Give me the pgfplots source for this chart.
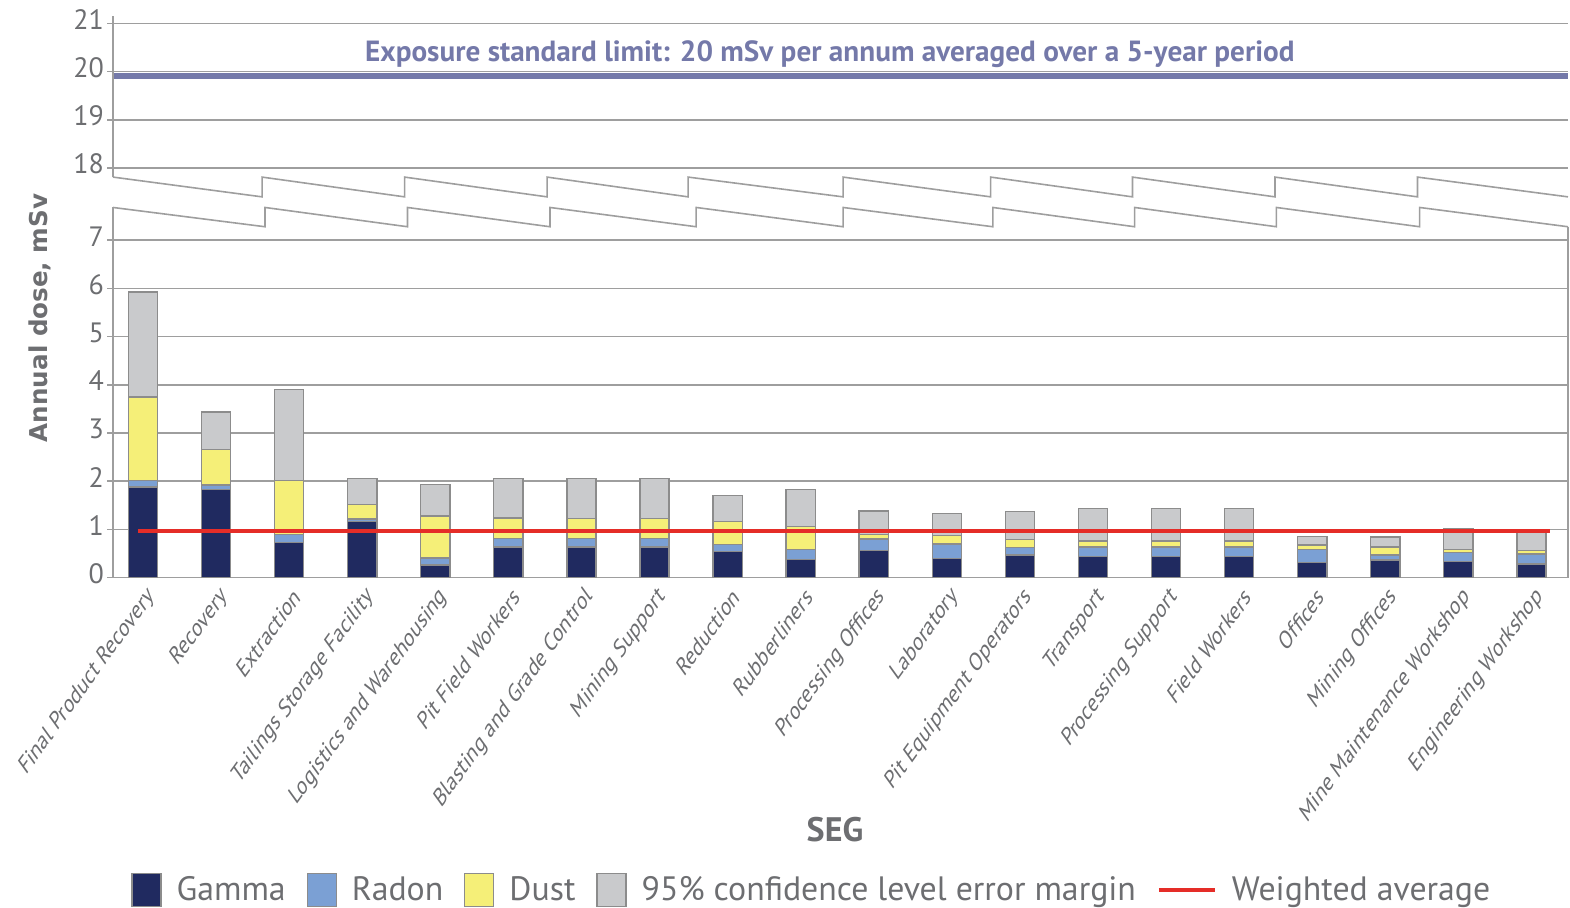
\documentclass[border=0pt]{standalone}
\usepackage{pgfplots}
\pgfplotsset{compat=1.18}
\usepackage{pgfplotstable}
\usepackage{fontspec}
\setmainfont{PT Sans}
\newfontfamily\dejavu{DejaVu Sans}
\definecolor{gam}{RGB}{32,42,96}
\definecolor{rad}{RGB}{123,160,212}
\definecolor{dus}{RGB}{245,239,120}
\definecolor{err}{RGB}{201,202,204}
\definecolor{edge}{RGB}{140,140,140}
\definecolor{gridc}{RGB}{158,158,158}
\definecolor{txt}{RGB}{109,110,113}
\definecolor{lim}{RGB}{116,121,169}
\definecolor{avg}{RGB}{229,45,40}

% cumulative tops of each segment (mSv)
\pgfplotstableread{
x gam rad dus tot
0 1.88 2.02 3.75 5.93
1 1.83 1.92 2.66 3.44
2 0.73 0.89 2.02 3.90
3 1.16 1.22 1.52 2.06
4 0.26 0.41 1.28 1.93
5 0.64 0.81 1.24 2.06
6 0.64 0.81 1.23 2.06
7 0.64 0.81 1.23 2.06
8 0.54 0.69 1.17 1.71
9 0.38 0.59 1.06 1.83
10 0.57 0.80 0.90 1.38
11 0.40 0.70 0.88 1.33
12 0.47 0.63 0.79 1.37
13 0.44 0.64 0.76 1.44
14 0.44 0.64 0.76 1.44
15 0.44 0.64 0.76 1.44
16 0.31 0.59 0.68 0.86
17 0.37 0.47 0.64 0.84
18 0.33 0.52 0.59 1.02
19 0.28 0.49 0.57 0.96
}\data

\pgfplotsset{
  sqleg/.style={legend image code/.code={\draw[##1,line width=0.6pt] (0pt,-8.2pt) rectangle (14.5pt,8.2pt);}},
  lnleg/.style={legend image code/.code={\draw[##1] (0pt,0pt) -- (28pt,0pt);}},
  mybar/.style={ybar, bar width=0.4, bar shift=0pt, draw=edge, line width=0.7pt, forget plot},
}

\begin{document}
\begin{tikzpicture}
\useasboundingbox (0,0) rectangle (785pt,454pt);
\begin{axis}[
  at={(56.5pt,165.15pt)}, anchor=south west,
  scale only axis, width=727.5pt, height=280.8pt,
  xmin=-0.41, xmax=19.5, ymin=0, ymax=11.65,
  clip=false,
  axis x line*=bottom, axis y line*=left,
  x axis line style={draw=gridc, line width=0.8pt},
  y axis line style={draw=none},
  xtick={0,...,19},
  xticklabels={Final Product Recovery, Recovery, Extraction, Tailings Storage Facility, Logistics and Warehousing, Pit Field Workers, Blasting and Grade Control, Mining Support, Reduction, Rubberliners, Processing Offices, Laboratory, Pit Equipment Operators, Transport, Processing Support, Field Workers, Offices, Mining Offices, Mine Maintenance Workshop, Engineering Workshop},
  major x tick style={draw=none},
  extra x ticks={0.5,1.5,2.5,3.5,4.5,5.5,6.5,7.5,8.5,9.5,10.5,11.5,12.5,13.5,14.5,15.5,16.5,17.5,18.5},
  extra x tick labels={},
  extra x tick style={major tick length=3pt, tick align=outside, tick style={draw=gridc, line width=0.8pt}},
  xticklabel style={font=\fontsize{13}{15}\selectfont, text=txt, anchor=east, xshift=6pt, yshift=-2pt, xscale=0.72, rotate=45},
  ytick={0,1,2,3,4,5,6,7,8.5,9.5,10.5,11.5},
  yticklabels={0,1,2,3,4,5,6,7,18,19,20,21},
  ymajorgrids,
  major grid style={draw=gridc, line width=0.8pt},
  ytick style={draw=gridc, line width=0.8pt},
  tick align=outside, major tick length=3pt,
  yticklabel style={font=\fontsize{14}{16}\selectfont, text=txt, xshift=2pt, yshift=2pt},
  /pgf/number format/assume math mode=true,
  xlabel={SEG},
  xlabel style={at={(axis description cs:0.4962,-0.4492)}, anchor=center, font=\bfseries\fontsize{17}{20}\selectfont, text=txt},
  ylabel={Annual dose, mSv},
  ylabel style={at={(axis description cs:-0.0502,0.4624)}, anchor=center, font=\dejavu\bfseries\fontsize{12.3}{14}\selectfont, text=txt},
  legend style={at={(axis description cs:0.0124,-0.556)}, anchor=west, draw=none, fill=none, inner sep=0pt,
    legend columns=-1, font=\fontsize{16.9}{20}\selectfont, text=txt,
    /tikz/every odd column/.append style={column sep=5.5pt},
    /tikz/every even column/.append style={column sep=8.5pt}},
]
% stacked segments drawn as overlapping bars from their cumulative tops
\addplot[mybar, fill=err] table[x=x,y=tot]{\data};
\addplot[mybar, fill=dus] table[x=x,y=dus]{\data};
\addplot[mybar, fill=rad] table[x=x,y=rad]{\data};
\addplot[mybar, fill=gam] table[x=x,y=gam]{\data};

% exposure limit line (20 mSv, shown in broken upper segment)
\addplot[lim, line width=3pt, forget plot] coordinates {(-0.41,10.41) (19.5,10.41)};
% weighted average
\addplot[avg, line width=2pt, forget plot] coordinates {(-0.07,0.96) (19.25,0.96)};

% axis break zigzags
\addplot[gridc, line width=0.8pt, forget plot] coordinates {(-0.41,8.31) (1.63,7.90) (1.63,8.31) (3.58,7.90) (3.58,8.31) (5.53,7.90) (5.53,8.31) (7.46,7.90) (7.46,8.31) (9.58,7.90) (9.58,8.31) (11.6,7.90) (11.6,8.31) (13.54,7.90) (13.54,8.31) (15.49,7.90) (15.49,8.31) (17.44,7.90) (17.44,8.31) (19.5,7.90)};
\addplot[gridc, line width=0.8pt, forget plot] coordinates {(-0.41,7.68) (1.67,7.28) (1.67,7.68) (3.62,7.28) (3.62,7.68) (5.57,7.28) (5.57,7.68) (7.57,7.28) (7.57,7.68) (9.58,7.28) (9.58,7.68) (11.63,7.28) (11.63,7.68) (13.57,7.28) (13.57,7.68) (15.51,7.28) (15.51,7.68) (17.47,7.28) (17.47,7.68) (19.5,7.28)};
% broken vertical axis lines
\addplot[gridc, line width=0.8pt, forget plot] coordinates {(-0.41,0) (-0.41,7.68)};
\addplot[gridc, line width=0.8pt, forget plot] coordinates {(-0.41,8.31) (-0.41,11.65)};
\addplot[gridc, line width=0.8pt, forget plot] coordinates {(19.5,0) (19.5,7.28)};

\node[font=\bfseries\fontsize{14.6}{17}\selectfont, text=lim] at (axis cs:9.4,10.87) {Exposure standard limit: 20 mSv per annum averaged over a 5-year period};

\addlegendimage{sqleg, fill=gam, draw=edge}\addlegendentry{Gamma}
\addlegendimage{sqleg, fill=rad, draw=edge}\addlegendentry{Radon}
\addlegendimage{sqleg, fill=dus, draw=edge}\addlegendentry{Dust}
\addlegendimage{sqleg, fill=err, draw=edge}\addlegendentry{95\% confidence level error margin}
\addlegendimage{lnleg, avg, line width=2pt}\addlegendentry{Weighted average}
\end{axis}
\end{tikzpicture}
\end{document}
